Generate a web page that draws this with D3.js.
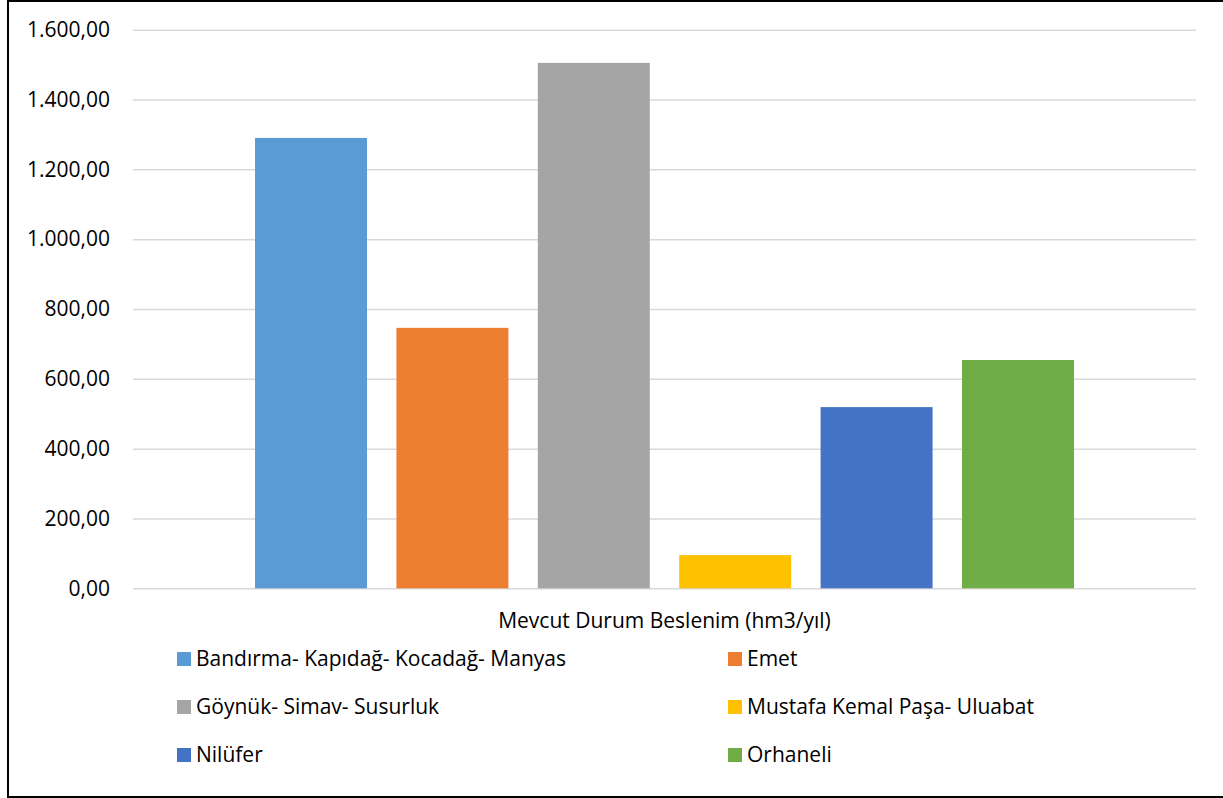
<!DOCTYPE html>
<html><head><meta charset="utf-8">
<script src="https://cdn.jsdelivr.net/npm/d3@7"></script>
<style>body{margin:0;background:#fff}svg{display:block}text{font-family:"Open Sans",sans-serif;fill:#000}</style>
</head><body>
<script>
const categories = ["Mevcut Durum Beslenim (hm3/yıl)"];
const seriesNames = ["Bandırma- Kapıdağ- Kocadağ- Manyas","Emet","Göynük- Simav- Susurluk","Mustafa Kemal Paşa- Uluabat","Nilüfer","Orhaneli"];
const seriesValues = [1290, 746, 1505, 95, 519, 654];
const seriesColors = ["#5B9BD5","#ED7D31","#A5A5A5","#FFC000","#4472C4","#70AD47"];
const yTicks = [0,200,400,600,800,1000,1200,1400,1600];

const W=1223,H=798;
const svg=d3.select("body").append("svg").attr("width",W).attr("height",H);
svg.append("rect").attr("x",8).attr("y",1).attr("width",1240).attr("height",796)
  .attr("fill","#fff").attr("stroke","#000").attr("stroke-width",2);

const plot={l:133,r:1196,t:29.7,b:588.3};
const y=d3.scaleLinear().domain([0,1600]).range([plot.b,plot.t]);
const x0=d3.scaleBand().domain(categories).range([plot.l,plot.r]).paddingInner(0).paddingOuter(0.149);
const x1=d3.scaleBand().domain(seriesNames).range([0,x0.bandwidth()]).paddingInner(0.208).paddingOuter(0);

const fmt=v=>d3.format(",.2f")(v).replace(/,/g,"#").replace(/\./g,",").replace(/#/g,".");
const yAxis=svg.append("g").attr("transform",`translate(${plot.l},0)`)
  .call(d3.axisLeft(y).tickValues(yTicks).tickSize(-(plot.r-plot.l)).tickPadding(23).tickFormat(fmt));
yAxis.select(".domain").remove();
yAxis.selectAll(".tick line").attr("stroke","#d9d9d9").attr("stroke-width",1.5);
yAxis.selectAll(".tick text").style("font-size","21px").style("font-family","Open Sans").attr("fill","#000");

const g=svg.append("g");
categories.forEach(c=>{
  seriesNames.forEach((s,i)=>{
    g.append("rect").attr("x",x0(c)+x1(s)).attr("width",x1.bandwidth())
      .attr("y",y(seriesValues[i])).attr("height",y(0)-y(seriesValues[i])).attr("fill",seriesColors[i]);
  });
  svg.append("text").attr("x",x0(c)+x0.bandwidth()/2).attr("y",628).attr("text-anchor","middle")
    .style("font-size","21px").text(c);
});

const legX=[177,728], legY=[659,707,755];
seriesNames.forEach((s,i)=>{
  const lx=legX[i%2], ly=legY[Math.floor(i/2)];
  svg.append("rect").attr("x",lx).attr("y",ly-7).attr("width",14).attr("height",14).attr("fill",seriesColors[i]);
  svg.append("text").attr("x",lx+19).attr("y",ly+7).style("font-size","21px").text(s);
});
</script>
</body></html>
